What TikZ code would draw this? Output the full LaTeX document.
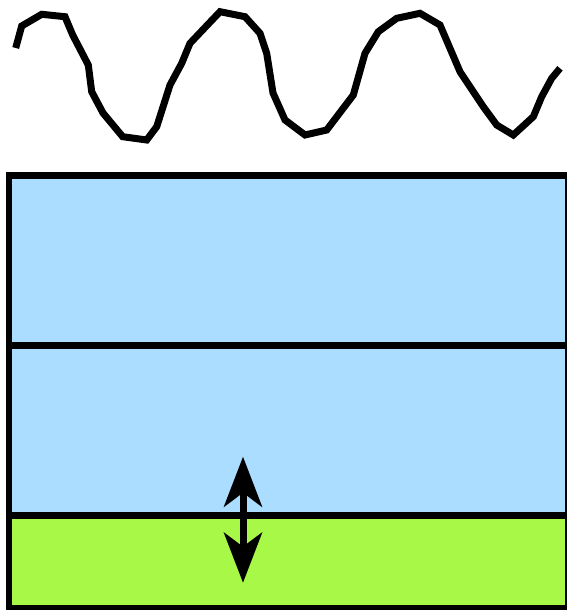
\documentclass[tikz,border=0pt]{standalone}
\usetikzlibrary{arrows.meta}
\definecolor{layerblue}{RGB}{170,221,255}
\definecolor{layergreen}{RGB}{168,248,72}
\tikzset{
  wave/.style={line width=7pt, line join=miter, line cap=butt},
  border/.style={line width=6.5pt},
  dblarrow/.style={line width=7pt, {Stealth[length=50pt,width=38pt,inset=14pt]}-{Stealth[length=50pt,width=38pt,inset=14pt]}}
}
\begin{document}
\begin{tikzpicture}[x=1pt,y=-1pt]
\useasboundingbox (0,0) rectangle (567,610);
% layers
\fill[layerblue] (9.2,175.5) rectangle (567.8,515.7);
\fill[layergreen] (9.2,515.7) rectangle (567.8,608.5);
\draw[border] (9.2,175.5) rectangle (567.8,608.5);
\coordinate (d1l) at (9.2,345.5);
\coordinate (d1r) at (567.8,345.5);
\coordinate (d2l) at (9.2,515.7);
\coordinate (d2r) at (567.8,515.7);
\draw[border] (d1l) -- (d1r);
\draw[border] (d2l) -- (d2r);
% wave
\draw[wave] (15.7,48) -- (21.7,26) -- (41.7,14.3) -- (65,16.7) -- (72.7,35)
  -- (88.3,65) -- (91.7,91.7) -- (103,113) -- (122.7,136.7) -- (146.7,140)
  -- (156.7,126.7) -- (170,85) -- (181.7,63.3) -- (190,43.3) -- (220,11.7)
  -- (245,16.7) -- (260,33.3) -- (266.7,53.3) -- (273,93) -- (285,120)
  -- (305,135) -- (326.7,130) -- (353.3,95) -- (365,53.3) -- (378.3,31.7)
  -- (396.7,18.3) -- (420,13.3) -- (440,25) -- (460,71.7) -- (483.3,106.7)
  -- (496.7,125) -- (513.3,135) -- (533.3,116.7) -- (541.7,96.7)
  -- (551.7,78.3) -- (560,68.3);
% arrow
\coordinate (atop) at (243,456.7);
\coordinate (abot) at (243,582.7);
\draw[dblarrow] (atop) -- (abot);
\end{tikzpicture}
\end{document}
